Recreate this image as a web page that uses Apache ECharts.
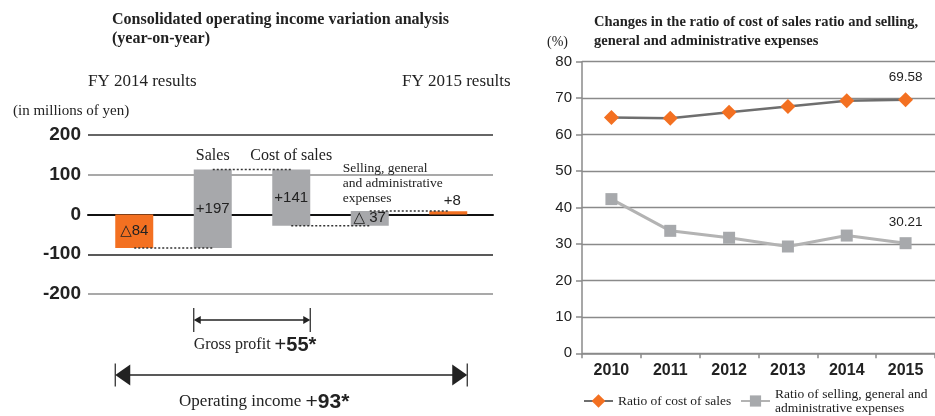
<!DOCTYPE html>
<html>
<head>
<meta charset="utf-8">
<script src="https://cdn.jsdelivr.net/npm/echarts@6/dist/echarts.min.js"></script>
<style>
  html, body { margin: 0; padding: 0; background: #fff; }
  #chart { width: 935px; height: 416px; }
</style>
</head>
<body>
<div id="chart"></div>
<script>
// Operating income bridge, FY2014 -> FY2015 (millions of yen)
const bridgeSteps = ['FY 2014 results', 'Sales', 'Cost of sales', 'Selling, general\nand administrative\nexpenses', 'FY 2015 results'];
const bridgeKinds = ['total', 'delta', 'delta', 'delta', 'total'];
const bridgeValues = [-84, 197, -141, 37, 8];
const bridgeLabels = ['△84', '+197', '+141', '△ 37', '+8'];
const bridgeTicks = [-200, -100, 0, 100, 200];

// subtotal brackets under the bridge: [first step, last step]
const bracketSpans = [[1, 2], [0, 4]];
const bracketNames = ['Gross profit', 'Operating income'];
const bracketValues = ['55*', '93*'];

// cost ratios (%)
const years = ['2010', '2011', '2012', '2013', '2014', '2015'];
const costOfSalesRatio = [64.7, 64.5, 66.1, 67.7, 69.3, 69.58];
const sgaRatio = [42.3, 33.6, 31.7, 29.3, 32.3, 30.21];
const ratioTicks = [0, 80, 10]; // min, max, step

const SERIF = "'Liberation Serif', 'DejaVu Serif', serif";
const SANS = "'Liberation Sans', Arial, 'DejaVu Sans', sans-serif";
const ORANGE = '#f37021';
const GREY_BAR = '#a7a8ab';
const BAR_W = 38;

// running levels of the bridge: [index, low, high, level after step]
let level = 0;
const bridgeBars = bridgeValues.map((v, i) => {
  const from = bridgeKinds[i] === 'total' ? 0 : level;
  const to = bridgeKinds[i] === 'total' ? v : level + v;
  level = to;
  return [i, Math.min(from, to), Math.max(from, to), to];
});

function renderBridgeBar(params, api) {
  const i = api.value(0);
  const top = api.coord([i, api.value(2)]);
  const bottom = api.coord([i, api.value(1)]);
  const cx = top[0];
  const h = Math.max(bottom[1] - top[1], 1);
  const isTotal = bridgeKinds[i] === 'total';
  const children = [{
    type: 'rect',
    shape: { x: cx - BAR_W / 2, y: top[1], width: BAR_W, height: h },
    style: { fill: isTotal ? ORANGE : GREY_BAR }
  }];
  // value label: inside the bar, above very thin ones
  const inside = h > 10;
  children.push({
    type: 'text',
    x: inside ? cx : cx + 4,
    y: inside ? top[1] + h / 2 : top[1] - 10,
    style: {
      text: bridgeLabels[i], fill: '#222', font: '15px ' + SANS,
      align: 'center', verticalAlign: 'middle'
    }
  });
  // step name
  const cs = params.coordSys;
  if (isTotal) {
    children.push({
      type: 'text', x: cx + 8, y: cs.y - 53,
      style: { text: bridgeSteps[i], fill: '#222', font: '17px ' + SERIF, align: 'center', verticalAlign: 'middle' }
    });
  } else {
    const multi = bridgeSteps[i].indexOf('\n') >= 0;
    children.push({
      type: 'text', x: multi ? cx - BAR_W / 2 - 8 : cx, y: top[1] - 5,
      style: {
        text: bridgeSteps[i], fill: '#222',
        font: (multi ? '13.5px ' : '16px ') + SERIF, lineHeight: multi ? 15 : 18,
        align: multi ? 'left' : 'center', verticalAlign: 'bottom'
      }
    });
  }
  return { type: 'group', children };
}

function renderConnector(params, api) {
  const i = api.value(0);
  if (i >= bridgeBars.length - 1) return null;
  const lv = api.value(3);
  const a = api.coord([i, lv]);
  const b = api.coord([i + 1, lv]);
  return {
    type: 'line',
    shape: { x1: a[0], y1: a[1], x2: b[0], y2: b[1] },
    style: { stroke: '#333', lineWidth: 1.5, lineDash: [2, 2] }
  };
}

// bracket look: [line offset below plot, end-bar half height, head length, head half width, text offset, text shift, name size, value size]
const bracketLook = [
  [26, 12, 7, 4, 51, 3, 16, 20],
  [81, 11.5, 15, 10.5, 108, -27, 17, 21]
];

function renderBracket(params, api) {
  const k = params.dataIndex;
  const [off, tickH, headL, headW, textOff, textShift, nameSize, valSize] = bracketLook[k];
  const x1 = api.coord([api.value(0), 0])[0] - BAR_W / 2;
  const x2 = api.coord([api.value(1), 0])[0] + BAR_W / 2;
  const base = params.coordSys.y + params.coordSys.height;
  const y = base + off;
  const ink = '#222';
  return {
    type: 'group',
    children: [
      { type: 'line', shape: { x1: x1 + headL - 1, y1: y, x2: x2 - headL + 1, y2: y }, style: { stroke: ink, lineWidth: 1.5 } },
      { type: 'line', shape: { x1: x1, y1: y - tickH, x2: x1, y2: y + tickH }, style: { stroke: ink, lineWidth: 1.2 } },
      { type: 'line', shape: { x1: x2, y1: y - tickH, x2: x2, y2: y + tickH }, style: { stroke: ink, lineWidth: 1.2 } },
      { type: 'polygon', shape: { points: [[x1, y], [x1 + headL, y - headW], [x1 + headL, y + headW]] }, style: { fill: ink } },
      { type: 'polygon', shape: { points: [[x2, y], [x2 - headL, y - headW], [x2 - headL, y + headW]] }, style: { fill: ink } },
      {
        type: 'text', x: (x1 + x2) / 2 + textShift, y: base + textOff,
        style: {
          text: '{n|' + bracketNames[k] + ' }{p|+}{v|' + bracketValues[k] + '}',
          align: 'center', verticalAlign: 'middle',
          rich: {
            n: { fontFamily: SERIF, fontSize: nameSize, fill: '#222' },
            p: { fontFamily: SANS, fontSize: valSize, fill: '#222' },
            v: { fontFamily: SANS, fontSize: valSize, fontWeight: 'bold', fill: '#222' }
          }
        }
      }
    ]
  };
}

const lastLabel = (arr) => arr.map((v, i) => i === arr.length - 1
  ? { value: v, label: { show: true, position: 'top', distance: 8, color: '#222', fontFamily: SANS, fontSize: 13.5 } }
  : v);

const chart = echarts.init(document.getElementById('chart'), null, { renderer: 'canvas' });

chart.setOption({
  animation: false,
  backgroundColor: '#fff',
  title: [
    {
      text: 'Consolidated operating income variation analysis\n(year-on-year)',
      left: 112, top: 10, padding: 0,
      textStyle: { fontFamily: SERIF, fontSize: 16, fontWeight: 'bold', lineHeight: 19, color: '#222' }
    },
    {
      text: 'Changes in the ratio of cost of sales ratio and selling,\ngeneral and administrative expenses',
      left: 594, top: 13, padding: 0,
      textStyle: { fontFamily: SERIF, fontSize: 14.5, fontWeight: 'bold', lineHeight: 19, color: '#222' }
    }
  ],
  graphic: [
    { type: 'text', left: 13, top: 104, style: { text: '(in millions of yen)', font: '15px ' + SERIF, fill: '#222' } },
    { type: 'text', left: 547, top: 35, style: { text: '(%)', font: '14px ' + SERIF, fill: '#222' } }
  ],
  legend: [
    {
      data: ['Ratio of cost of sales'], left: 583, top: 394, padding: 0,
      itemWidth: 29, itemHeight: 17,
      textStyle: { fontFamily: SERIF, fontSize: 13.5, color: '#222' }
    },
    {
      data: ['Ratio of selling, general and\nadministrative expenses'], left: 740, top: 387, padding: 0,
      itemWidth: 29, itemHeight: 14,
      textStyle: { fontFamily: SERIF, fontSize: 13.5, lineHeight: 14, color: '#222' }
    }
  ],
  grid: [
    { left: 88, top: 135, width: 405, height: 159 },            // bridge scale + rules
    { left: 95, top: 135, width: 392.5, height: 159 },          // bridge bars
    { left: 582, top: 61.7, width: 357, height: 291.6 }         // ratio lines
  ],
  xAxis: [
    {
      gridIndex: 0, type: 'category', data: [''],
      axisLine: { show: true, onZero: true, lineStyle: { color: '#111', width: 2 } },
      axisTick: { show: false }, axisLabel: { show: false }
    },
    { gridIndex: 1, type: 'category', data: bridgeSteps, show: false },
    {
      gridIndex: 2, type: 'category', data: years, boundaryGap: true,
      axisLine: { lineStyle: { color: '#8a8a8a', width: 1.5 } },
      axisTick: { show: true, length: 5, lineStyle: { color: '#8a8a8a', width: 1.5 } },
      axisLabel: { color: '#222', fontFamily: SANS, fontSize: 16, fontWeight: 'bold', margin: 9 }
    }
  ],
  yAxis: [
    {
      gridIndex: 0, type: 'value',
      min: bridgeTicks[0], max: bridgeTicks[bridgeTicks.length - 1], interval: bridgeTicks[1] - bridgeTicks[0],
      axisLine: { show: false }, axisTick: { show: false },
      axisLabel: { color: '#222', fontFamily: SANS, fontSize: 19, fontWeight: 'bold', margin: 7 },
      splitLine: { lineStyle: { color: ['#8d8d8d', '#222', '#111', '#8d8d8d', '#333'], width: 1.5 } }
    },
    {
      gridIndex: 1, type: 'value', show: false,
      min: bridgeTicks[0], max: bridgeTicks[bridgeTicks.length - 1], interval: bridgeTicks[1] - bridgeTicks[0],
      splitLine: { show: false }
    },
    {
      gridIndex: 2, type: 'value', min: ratioTicks[0], max: ratioTicks[1], interval: ratioTicks[2],
      axisLine: { show: true, lineStyle: { color: '#8a8a8a', width: 1.5 } },
      axisTick: { show: true, length: 6, lineStyle: { color: '#8a8a8a', width: 1.5 } },
      axisLabel: { color: '#222', fontFamily: SANS, fontSize: 15, margin: 10 },
      splitLine: { lineStyle: { color: '#8a8a8a', width: 1.3 } }
    }
  ],
  series: [
    {
      type: 'custom', name: 'bridge', xAxisIndex: 1, yAxisIndex: 1, z: 3,
      renderItem: renderBridgeBar, data: bridgeBars, clip: false
    },
    {
      type: 'custom', name: 'bridge links', xAxisIndex: 1, yAxisIndex: 1, z: 4,
      renderItem: renderConnector, data: bridgeBars, clip: false
    },
    {
      type: 'custom', name: 'subtotals', xAxisIndex: 1, yAxisIndex: 1, z: 4,
      renderItem: renderBracket, data: bracketSpans, clip: false
    },
    {
      type: 'line', name: 'Ratio of cost of sales', xAxisIndex: 2, yAxisIndex: 2, z: 5,
      data: lastLabel(costOfSalesRatio),
      symbol: 'diamond', symbolSize: 15,
      lineStyle: { color: '#6e6e6e', width: 2.5 },
      itemStyle: { color: ORANGE }
    },
    {
      type: 'line', name: 'Ratio of selling, general and\nadministrative expenses', xAxisIndex: 2, yAxisIndex: 2, z: 5,
      data: lastLabel(sgaRatio),
      symbol: 'rect', symbolSize: 12,
      lineStyle: { color: '#b3b3b3', width: 3 },
      itemStyle: { color: '#a7a9ac' }
    }
  ]
});
</script>
</body>
</html>
